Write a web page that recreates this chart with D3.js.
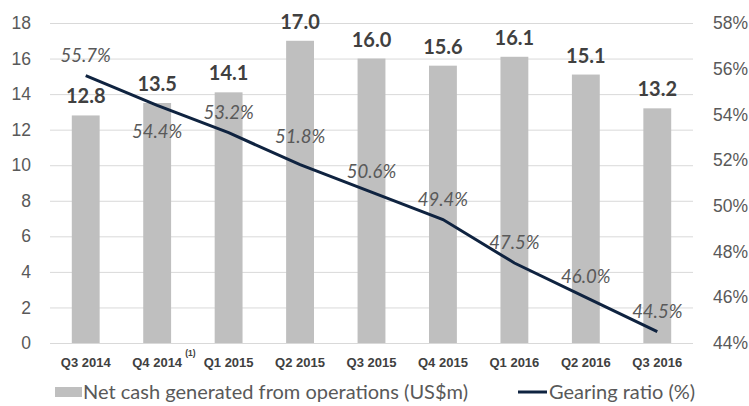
<!DOCTYPE html>
<html>
<head>
<meta charset="utf-8">
<script src="https://cdn.jsdelivr.net/npm/d3@7"></script>
<style>
  body { margin: 0; background: #fff; }
  svg { display: block; font-family: Lato, "Open Sans", sans-serif; }
  .grid line { stroke: #d9d9d9; stroke-width: 1; }
  .grid path { display: none; }
</style>
</head>
<body>
<svg id="chart" width="749" height="406"></svg>
<script>
var quarters = ["Q3 2014", "Q4 2014", "Q1 2015", "Q2 2015", "Q3 2015", "Q4 2015", "Q1 2016", "Q2 2016", "Q3 2016"];
var netCash = [12.8, 13.5, 14.1, 17.0, 16.0, 15.6, 16.1, 15.1, 13.2];
var gearing = [55.7, 54.4, 53.2, 51.8, 50.6, 49.4, 47.5, 46.0, 44.5];
var leftTicks = [0, 2, 4, 6, 8, 10, 12, 14, 16, 18];
var rightTicks = [44, 46, 48, 50, 52, 54, 56, 58];

var svg = d3.select("#chart"),
    margin = {top: 23, right: 56, bottom: 63, left: 50},
    width = +svg.attr("width") - margin.left - margin.right,
    height = +svg.attr("height") - margin.top - margin.bottom;

var x = d3.scaleBand().domain(quarters).range([0, width]).paddingInner(0.61).paddingOuter(0.305),
    y = d3.scaleLinear().domain([0, 18]).range([height, 0]),
    y2 = d3.scaleLinear().domain([44, 58]).range([height, 0]);

var g = svg.append("g")
    .attr("transform", "translate(" + margin.left + "," + margin.top + ")");

// gridlines
g.append("g")
    .attr("class", "grid")
    .call(d3.axisLeft(y).tickValues(leftTicks).tickSize(-width).tickFormat(""));

// left axis labels
g.append("g")
    .call(d3.axisLeft(y).tickValues(leftTicks).tickSize(0).tickPadding(19))
    .call(function(a) { a.select(".domain").remove(); })
    .selectAll("text")
      .style("font-size", "17.5px")
      .style("fill", "#595959");

// right axis labels
g.append("g")
    .attr("transform", "translate(" + width + ",0)")
    .call(d3.axisRight(y2).tickValues(rightTicks).tickSize(0).tickPadding(20)
      .tickFormat(function(d) { return d + "%"; }))
    .call(function(a) { a.select(".domain").remove(); })
    .selectAll("text")
      .style("font-size", "17.5px")
      .style("fill", "#595959");

// x axis labels
var xa = g.append("g")
    .attr("transform", "translate(0," + height + ")")
    .call(d3.axisBottom(x).tickSize(0).tickPadding(15))
    .call(function(a) { a.select(".domain").remove(); });
xa.selectAll("text")
    .style("font-size", "13px")
    .style("font-weight", "bold")
    .style("fill", "#404040");
xa.selectAll(".tick")
  .filter(function(d) { return d === "Q4 2014"; })
  .append("text")
    .attr("x", 28)
    .attr("y", 13)
    .attr("text-anchor", "start")
    .style("font-size", "8.5px")
    .style("font-weight", "bold")
    .style("fill", "#404040")
    .text("(1)");

// bars
var rows = quarters.map(function(q, i) { return {q: q, v: netCash[i], r: gearing[i]}; });

g.selectAll(".bar")
  .data(rows)
  .enter().append("rect")
    .attr("class", "bar")
    .attr("x", function(d) { return x(d.q); })
    .attr("y", function(d) { return y(d.v); })
    .attr("width", x.bandwidth())
    .attr("height", function(d) { return height - y(d.v); })
    .attr("fill", "#bfbfbf");

g.selectAll(".barlabel")
  .data(rows)
  .enter().append("text")
    .attr("class", "barlabel")
    .attr("x", function(d) { return x(d.q) + x.bandwidth() / 2; })
    .attr("y", function(d) { return y(d.v) - 12; })
    .attr("text-anchor", "middle")
    .style("font-size", "20px")
    .style("font-weight", "bold")
    .style("fill", "#404040")
    .text(function(d) { return d.v.toFixed(1); });

// gearing line
var line = d3.line()
    .x(function(d) { return x(d.q) + x.bandwidth() / 2; })
    .y(function(d) { return y2(d.r); });

g.append("path")
    .datum(rows)
    .attr("fill", "none")
    .attr("stroke", "#0f2340")
    .attr("stroke-width", 3)
    .attr("d", line);

g.selectAll(".linelabel")
  .data(rows)
  .enter().append("text")
    .attr("class", "linelabel")
    .attr("x", function(d) { return x(d.q) + x.bandwidth() / 2; })
    .attr("y", function(d, i) { return y2(d.r) + (i === 1 ? 33 : (i === 3 ? -22 : -14)); })
    .attr("text-anchor", "middle")
    .style("font-size", "18.5px")
    .style("font-style", "italic")
    .style("fill", "#595959")
    .text(function(d) { return d.r.toFixed(1) + "%"; });

// legend
var lg = svg.append("g").attr("transform", "translate(0,392)");
lg.append("rect")
    .attr("x", 55).attr("y", -5)
    .attr("width", 27).attr("height", 10)
    .attr("fill", "#bfbfbf");
lg.append("text")
    .attr("x", 83).attr("y", 7)
    .style("font-size", "20px")
    .style("fill", "#595959")
    .text("Net cash generated from operations (US$m)");
lg.append("line")
    .attr("x1", 518).attr("x2", 547)
    .attr("y1", 0).attr("y2", 0)
    .attr("stroke", "#0f2340")
    .attr("stroke-width", 3);
lg.append("text")
    .attr("x", 549).attr("y", 7)
    .style("font-size", "20px")
    .style("fill", "#595959")
    .text("Gearing ratio (%)");
</script>
</body>
</html>
